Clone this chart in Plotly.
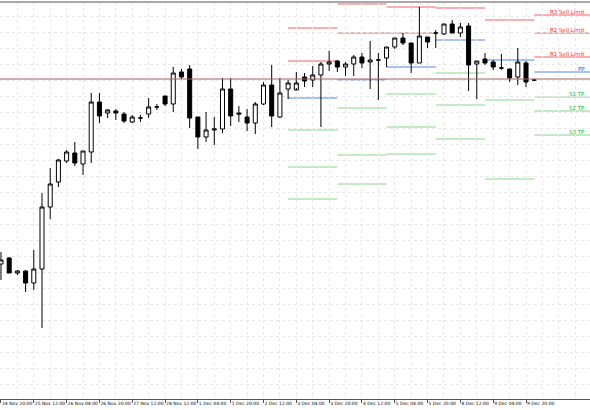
import plotly.graph_objects as go

H = 400  # price units = pixels from bottom (arbitrary scale)
open_y  = [264,258,273,271,283,269,207,182,161,153,164,152,102,113,111,114,122,118,114,107,96,104,72,69,117,137,130,129,89,113,117,123,104,85,117,89,90,77,80,75,64,61,67,64,57,62,60,58,47,38,43,63,37,33,34,24,33,26,64,59,62,68,69,77,63,80]
close_y = [260,273,271,283,269,207,184,160,152,163,151,102,116,110,113,121,117,118,107,107,104,73,77,118,137,130,129,89,116,114,123,104,85,116,93,83,83,81,75,64,62,67,64,57,63,60,60,47,38,43,63,36,42,33,24,33,27,65,61,63,67,68,78,62,82,80]
high_y  = [252,257,270,270,250,193,168,159,150,142,151,93,93,109,109,112,115,115,98,104,96,67,69,65,117,112,117,78,78,106,109,102,82,65,78,80,72,73,66,62,51,60,62,55,53,41,53,47,38,33,43,7,37,30,24,20,23,23,61,53,60,54,69,48,61,79]
low_y   = [280,273,275,292,290,328,219,187,163,166,175,163,123,118,120,123,123,122,118,110,106,112,79,128,149,142,145,133,126,122,131,134,105,127,118,99,88,87,87,127,71,72,76,76,68,89,100,67,49,45,73,63,48,48,35,33,37,91,99,65,70,70,82,85,87,81]
opens  = [H - v for v in open_y]
closes = [H - v for v in close_y]
highs  = [H - v for v in high_y]
lows   = [H - v for v in low_y]
idx = list(range(len(opens)))

tick_pos = [0,4,8,12,16,20,24,28,32,36,40,44,48,52,56,60,64]
tick_labels = ["24 Nov 20:00","25 Nov 12:00","26 Nov 04:00","26 Nov 20:00","27 Nov 12:00",
               "28 Nov 12:00","1 Dec 04:00","1 Dec 20:00","2 Dec 12:00","3 Dec 04:00",
               "3 Dec 20:00","4 Dec 12:00","5 Dec 04:00","5 Dec 20:00","8 Dec 12:00",
               "9 Dec 04:00","9 Dec 20:00"]

seg_start = [35, 41, 47, 53, 59, 65]
seg_end   = [41, 47, 53, 59, 65, 72]
seg_R = [[28,61], [4,33], [7,33], [8], [20], [15,33,57]]
seg_P = [98, 80, 67, 40, 60, 72]
seg_S = [[130,167,199], [108,155,184], [94,127,154], [73,105,139], [100,179], [97,111,135]]
main_line = 79
label_text = ["R3 Sell Limit","R2 Sell Limit","R1 Sell Limit","PP","S1 TP","S2 TP","S3 TP"]
label_rows = [15,33,57,72,97,111,135]
label_cols = ["#ff2020","#ff2020","#ff2020","#2050ff","#20b020","#20b020","#20b020"]

fig = go.Figure()
fig.add_trace(go.Candlestick(x=idx, open=opens, high=highs, low=lows, close=closes,
    increasing=dict(line=dict(color="black", width=1), fillcolor="white"),
    decreasing=dict(line=dict(color="black", width=1), fillcolor="black"),
    whiskerwidth=0, showlegend=False, hoverinfo="skip"))

shapes = []
def seg(x0, x1, row, col):
    shapes.append(dict(type="line", x0=x0, x1=x1, y0=H-row, y1=H-row, xref="x", yref="y",
                       line=dict(color=col, width=1), layer="below"))
for i in range(len(seg_start)):
    for r in seg_R[i]:
        seg(seg_start[i], seg_end[i], r, "#f26060")
    seg(seg_start[i], seg_end[i], seg_P[i], "#5088e8")
    for s in seg_S[i]:
        seg(seg_start[i], seg_end[i], s, "#88d888")
shapes.append(dict(type="line", x0=0, x1=1, xref="paper", y0=H-main_line, y1=H-main_line, yref="y",
                   line=dict(color="#a06060", width=1)))
shapes.append(dict(type="line", x0=0, x1=1, xref="paper", y0=1, y1=1, yref="paper",
                   line=dict(color="#555", width=1)))
fig.update_layout(shapes=shapes)

for t, r, c in zip(label_text, label_rows, label_cols):
    fig.add_annotation(x=0.995, xref="paper", y=H-r, text=t, showarrow=False, xanchor="right",
                       yanchor="bottom", yshift=-2, font=dict(size=5.5, color=c, family="DejaVu Sans"))

fig.update_layout(width=590, height=410, margin=dict(l=0, r=0, t=2, b=11, autoexpand=False),
    plot_bgcolor="white", paper_bgcolor="white",
    xaxis=dict(range=[-0.12, 71.8], tickvals=tick_pos, ticktext=tick_labels, showgrid=True,
               gridcolor="#e8e8e8", griddash="dot", rangeslider=dict(visible=False),
               tickangle=0, automargin=False, ticklabelposition="outside right",
               tickfont=dict(size=4.5, family="DejaVu Sans", color="black"), ticks="outside",
               ticklen=3, tickcolor="#555", showline=True, linecolor="#555", zeroline=False,
               minor=dict(dtick=2, tick0=0, showgrid=True, gridcolor="#e8e8e8", griddash="dot")),
    yaxis=dict(range=[1, 398], showticklabels=False, dtick=16, tick0=0, showgrid=True,
               automargin=False, gridcolor="#e8e8e8", griddash="dot", zeroline=False))
fig.write_html("out.html", config={"displayModeBar": False},
               post_script="document.body.style.margin='0';document.body.style.overflow='hidden';")
